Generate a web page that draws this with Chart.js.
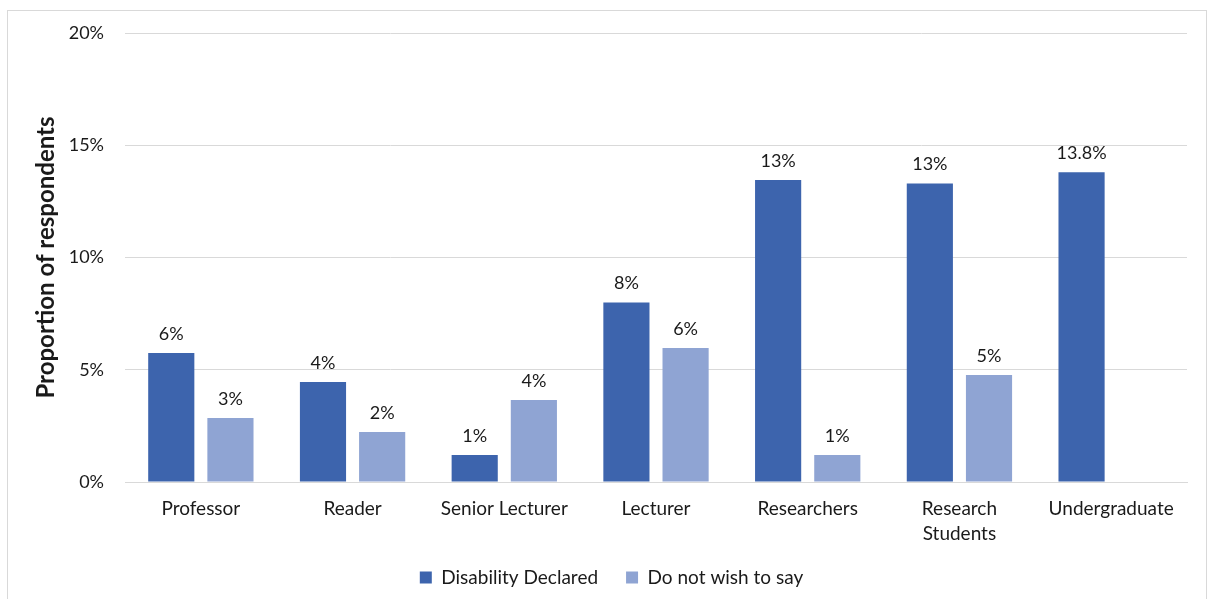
<!DOCTYPE html>
<html>
<head>
<meta charset="utf-8">
<script src="https://cdn.jsdelivr.net/npm/chart.js@4.4.1/dist/chart.umd.min.js"></script>
<style>
    html, body { margin: 0; padding: 0; background: #fff; }
    #wrap { position: relative; width: 1213px; height: 599px; }
    #frame {
        position: absolute; left: 7px; top: 10px; width: 1198px; height: 600px;
        border: 1px solid #d9d9d9; pointer-events: none;
    }
</style>
</head>
<body>
<div id="wrap">
    <canvas id="chart" width="1213" height="599"></canvas>
    <div id="frame"></div>
</div>
<script>
// Chart data
const categories = ['Professor', 'Reader', 'Senior Lecturer', 'Lecturer', 'Researchers', ['Research', 'Students'], 'Undergraduate'];
const disabilityDeclared = [5.75, 4.45, 1.2, 8.0, 13.45, 13.3, 13.8];
const doNotWishToSay = [2.85, 2.23, 3.65, 5.97, 1.2, 4.77, null];
const disabilityLabels = ['6%', '4%', '1%', '8%', '13%', '13%', '13.8%'];
const doNotWishLabels = ['3%', '2%', '4%', '6%', '1%', '5%', ''];
const yTicks = [0, 5, 10, 15, 20];

const FONT = 'Lato, "Open Sans", sans-serif';
const TEXT = '#1a1a1a';

// Draws the value labels above each bar
const barLabels = {
    id: 'barLabels',
    afterDatasetsDraw(chart) {
        const ctx = chart.ctx;
        const texts = [disabilityLabels, doNotWishLabels];
        ctx.save();
        ctx.font = '18px ' + FONT;
        ctx.fillStyle = TEXT;
        ctx.textAlign = 'center';
        ctx.textBaseline = 'bottom';
        chart.data.datasets.forEach((ds, i) => {
            chart.getDatasetMeta(i).data.forEach((bar, j) => {
                if (ds.data[j] == null || !texts[i][j]) return;
                ctx.fillText(texts[i][j], bar.x, bar.y - 10);
            });
        });
        ctx.restore();
    }
};

// Fixed legend block height, then nudge it to where the original sits
const legendPlacement = {
    id: 'legendPlacement',
    afterInit(chart) {
        const legend = chart.legend;
        const fit = legend.fit.bind(legend);
        legend.fit = function () {
            fit();
            this.height = 48;
        };
    },
    afterLayout(chart) {
        const legend = chart.legend;
        legend.top -= 11;
        legend.bottom -= 11;
        legend.left += 18;
        legend.right += 18;
    }
};

new Chart(document.getElementById('chart').getContext('2d'), {
    type: 'bar',
    data: {
        labels: categories,
        datasets: [
            {
                label: 'Disability Declared',
                data: disabilityDeclared,
                backgroundColor: '#3d64ad',
                categoryPercentage: 0.78,
                barPercentage: 0.78
            },
            {
                label: 'Do not wish to say',
                data: doNotWishToSay,
                backgroundColor: '#8fa4d3',
                categoryPercentage: 0.78,
                barPercentage: 0.78
            }
        ]
    },
    options: {
        responsive: false,
        animation: false,
        layout: { padding: { top: 33, right: 26, bottom: 0, left: 0 } },
        scales: {
            x: {
                grid: { display: false, drawTicks: false },
                border: { color: '#d9d9d9' },
                ticks: {
                    color: TEXT,
                    font: { family: FONT, size: 19, lineHeight: 1.3 },
                    padding: 15,
                    maxRotation: 0,
                    autoSkip: false
                },
                afterFit(scale) { scale.height = 69; }
            },
            y: {
                min: 0,
                max: 20,
                afterBuildTicks(scale) { scale.ticks = yTicks.map(v => ({ value: v })); },
                grid: { color: '#d9d9d9', drawTicks: false },
                border: { display: false },
                ticks: {
                    color: TEXT,
                    font: { family: FONT, size: 18 },
                    padding: 21,
                    callback: v => v + '%'
                },
                title: {
                    display: true,
                    text: 'Proportion of respondents',
                    color: TEXT,
                    font: { family: FONT, size: 24, weight: 'bold' },
                    padding: { top: 32 }
                },
                afterFit(scale) { scale.width = 125; }
            }
        },
        plugins: {
            legend: {
                position: 'bottom',
                labels: {
                    color: TEXT,
                    font: { family: FONT, size: 19 },
                    boxWidth: 12,
                    boxHeight: 12,
                    padding: 28
                }
            },
            tooltip: { enabled: false }
        }
    },
    plugins: [barLabels, legendPlacement]
});
</script>
</body>
</html>
